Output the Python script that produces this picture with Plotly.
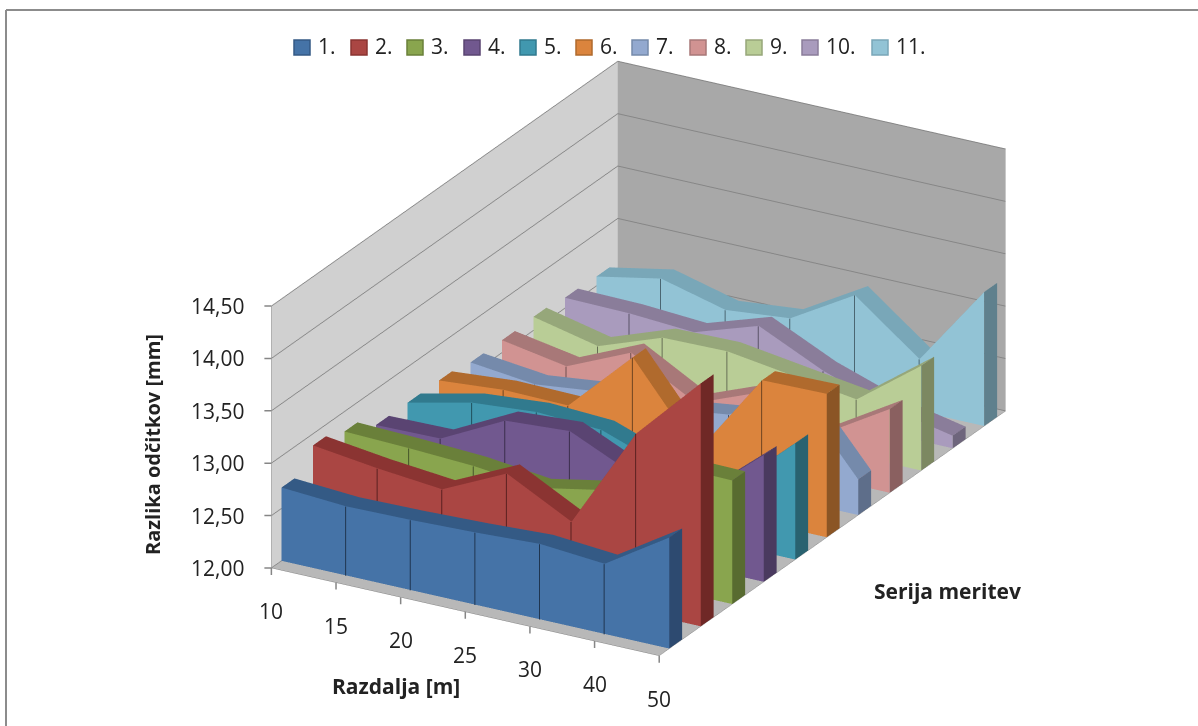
import plotly.graph_objects as go

distances = ["10", "15", "20", "25", "30", "40", "50"]
series_names = ["1.", "2.", "3.", "4.", "5.", "6.", "7.", "8.", "9.", "10.", "11."]
value_ticks = [12.0, 12.5, 13.0, 13.5, 14.0, 14.5]
value_labels = ["12,00", "12,50", "13,00", "13,50", "14,00", "14,50"]

s1 = [12.70, 12.66, 12.67, 12.69, 12.72, 12.67, 13.06]
s2 = [12.89, 12.81, 12.75, 13.04, 12.72, 13.70, 14.32]
s3 = [12.81, 12.79, 12.76, 12.69, 12.81, 13.19, 13.18]
s4 = [12.66, 12.67, 12.98, 13.02, 12.74, 12.69, 13.21]
s5 = [12.66, 12.80, 12.85, 12.82, 12.60, 12.55, 13.11]
s6 = [12.66, 12.71, 12.70, 13.30, 12.54, 13.36, 13.37]
s7 = [12.62, 12.55, 12.62, 12.60, 12.68, 13.07, 12.34]
s8 = [12.62, 12.51, 12.78, 12.44, 12.68, 12.43, 12.80]
s9 = [12.63, 12.49, 12.71, 12.72, 12.63, 12.54, 13.00]
s10 = [12.60, 12.59, 12.55, 12.75, 12.46, 12.25, 12.12]
s11 = [12.59, 12.71, 12.55, 12.61, 12.97, 12.50, 13.28]
all_series = [s1, s2, s3, s4, s5, s6, s7, s8, s9, s10, s11]

front_colors = ["#4573a7", "#aa4643", "#89a54e", "#71588f", "#4198af", "#db843d",
                "#93a9cf", "#d19392", "#b9cd96", "#a99bbd", "#92c3d5"]
top_colors = ["#345a85", "#8b3432", "#6a803a", "#5a4472", "#317a8e", "#b06a2d",
              "#758aab", "#a87878", "#96a77a", "#8a7d9a", "#79a7b8"]
side_colors = ["#2d4a70", "#6f2826", "#586b30", "#4a3a5f", "#296270", "#8b5525",
               "#5e6e8a", "#8a6060", "#7c8861", "#6e657c", "#5f808d"]
drop_colors = ["#1f3550", "#5a2020", "#45552a", "#3a2d4c", "#1f4f5c", "#6e4420",
               "#4a5670", "#705050", "#666f55", "#5a5368", "#4a6672"]
legend_left_px = [294, 351, 407, 464, 520, 576, 632, 690, 746, 802, 872]

BASE = 12.0
FRONT = 0.32
BACK = 0.73
W, H = 1198, 726
FONT = "Open Sans"
TXT = "#222222"
TICK = "#868686"
LIGHT = dict(ambient=1, diffuse=0, specular=0, roughness=1, fresnel=0)


def quad_mesh(quads, color):
    xs, ys, zs, a, b, c = [], [], [], [], [], []
    for q in quads:
        n = len(xs)
        for px, py, pz in q:
            xs.append(px); ys.append(py); zs.append(pz)
        a += [n, n]; b += [n + 1, n + 2]; c += [n + 2, n + 3]
    return go.Mesh3d(x=xs, y=ys, z=zs, i=a, j=b, k=c, color=color, opacity=1,
                     flatshading=True, lighting=LIGHT, hoverinfo="skip", showlegend=False)


fig = go.Figure()
n = len(distances)
for j, vals in enumerate(all_series):
    yf, yb = j + FRONT, j + BACK
    front = [[(i, yf, BASE), (i + 1, yf, BASE), (i + 1, yf, vals[i + 1]), (i, yf, vals[i])] for i in range(n - 1)]
    top = [[(i, yf, vals[i]), (i + 1, yf, vals[i + 1]), (i + 1, yb, vals[i + 1]), (i, yb, vals[i])] for i in range(n - 1)]
    cap = [[(n - 1, yf, BASE), (n - 1, yb, BASE), (n - 1, yb, vals[-1]), (n - 1, yf, vals[-1])]]
    fig.add_trace(quad_mesh(front, front_colors[j]))
    fig.add_trace(quad_mesh(top, top_colors[j]))
    fig.add_trace(quad_mesh(cap, side_colors[j]))
    lx, ly, lz = [], [], []
    for i in range(1, n - 1):
        lx += [i, i, None]; ly += [yf - 0.015, yf - 0.015, None]; lz += [BASE, vals[i], None]
    fig.add_trace(go.Scatter3d(x=lx, y=ly, z=lz, mode="lines", line=dict(color=drop_colors[j], width=2),
                               hoverinfo="skip", showlegend=False))

ZFLOOR = BASE + 0.0005
BLANK = dict(text="\u00a0", font=dict(size=4, color="rgba(0,0,0,0)"))
scene_notes = []
for i, label in enumerate(distances):
    scene_notes.append(dict(x=i, y=0, z=ZFLOOR, text=label, showarrow=False, yshift=-43,
                            font=dict(family=FONT, size=21, color=TXT)))
    scene_notes.append(dict(x=i, y=0, z=ZFLOOR, showarrow=True, arrowhead=0, arrowwidth=1.5, arrowcolor=TICK,
                            ax=0, ay=11, standoff=0, **BLANK))
for v, label in zip(value_ticks, value_labels):
    zv = max(v, ZFLOOR)
    scene_notes.append(dict(x=0, y=0, z=zv, text=label, showarrow=False, xanchor="right", xshift=-25,
                            font=dict(family=FONT, size=21, color=TXT)))
    scene_notes.append(dict(x=0, y=0, z=zv, showarrow=True, arrowhead=0, arrowwidth=1.5, arrowcolor=TICK,
                            ax=-9, ay=0, standoff=0, **BLANK))

shapes = [
    dict(type="line", xref="paper", yref="paper", x0=6 / W, x1=1, y0=1 - 10 / H, y1=1 - 10 / H,
         line=dict(color="#8c8c8c", width=2)),
    dict(type="line", xref="paper", yref="paper", x0=6 / W, x1=6 / W, y0=0, y1=1 - 10 / H,
         line=dict(color="#8c8c8c", width=2)),
]
annotations = [
    dict(text="<b>Razlika odčitkov [mm]</b>", x=152 / W, y=1 - 445 / H, textangle=-90, font=dict(size=20)),
    dict(text="<b>Razdalja [m]</b>", x=396 / W, y=1 - 686 / H, font=dict(size=21)),
    dict(text="<b>Serija meritev</b>", x=948 / W, y=1 - 591 / H, font=dict(size=21)),
]
for name, left, fc, dc in zip(series_names, legend_left_px, front_colors, top_colors):
    shapes.append(dict(type="rect", xref="paper", yref="paper", x0=left / W, x1=(left + 16) / W,
                       y0=1 - 55 / H, y1=1 - 40 / H, fillcolor=fc, line=dict(color=dc, width=1.5)))
    annotations.append(dict(text=name, x=(left + 22) / W, y=1 - 46 / H, xanchor="left",
                            font=dict(size=21)))
for a in annotations:
    a.update(xref="paper", yref="paper", showarrow=False, yanchor="middle")
    a.setdefault("xanchor", "center")

fig.update_layout(
    width=W, height=H, autosize=False, showlegend=False,
    margin=dict(l=0, r=0, t=0, b=0, autoexpand=False), paper_bgcolor="white", separators=", ",
    font=dict(family=FONT, size=21, color=TXT),
    scene=dict(
        domain=dict(x=[79 / W, 1], y=[9 / H, 1]),
        aspectmode="manual", aspectratio=dict(x=1.243, y=1.962, z=0.797),
        camera=dict(projection=dict(type="orthographic"),
                    up=dict(x=0, y=0, z=1), center=dict(x=0, y=0, z=0),
                    eye=dict(x=0.451 * 2, y=-0.797 * 2, z=0.3995 * 2)),
        xaxis=dict(range=[0, 6], tickmode="array", tickvals=[], showticklabels=False, title=dict(text=""),
                   showgrid=False, showbackground=True, backgroundcolor="#d0d0d0",
                   showline=True, linecolor=TICK, zeroline=False, showspikes=False),
        yaxis=dict(range=[0, 11], tickmode="array", tickvals=[], title=dict(text=""), showgrid=False,
                   showbackground=True, backgroundcolor="#a8a8a8", showline=True, linecolor=TICK,
                   showticklabels=False, zeroline=False, showspikes=False),
        zaxis=dict(range=[12, 14.5], tickmode="array", tickvals=value_ticks, ticktext=value_labels,
                   showticklabels=False, title=dict(text=""), showgrid=True,
                   gridcolor=TICK, showbackground=True, backgroundcolor="#b8b8b8",
                   showline=True, linecolor=TICK, zeroline=False, showspikes=False),
        annotations=scene_notes,
    ),
    shapes=shapes,
    annotations=annotations,
)
fig.write_html("out.html", config=dict(displayModeBar=False), post_script="document.body.style.margin='0';")
